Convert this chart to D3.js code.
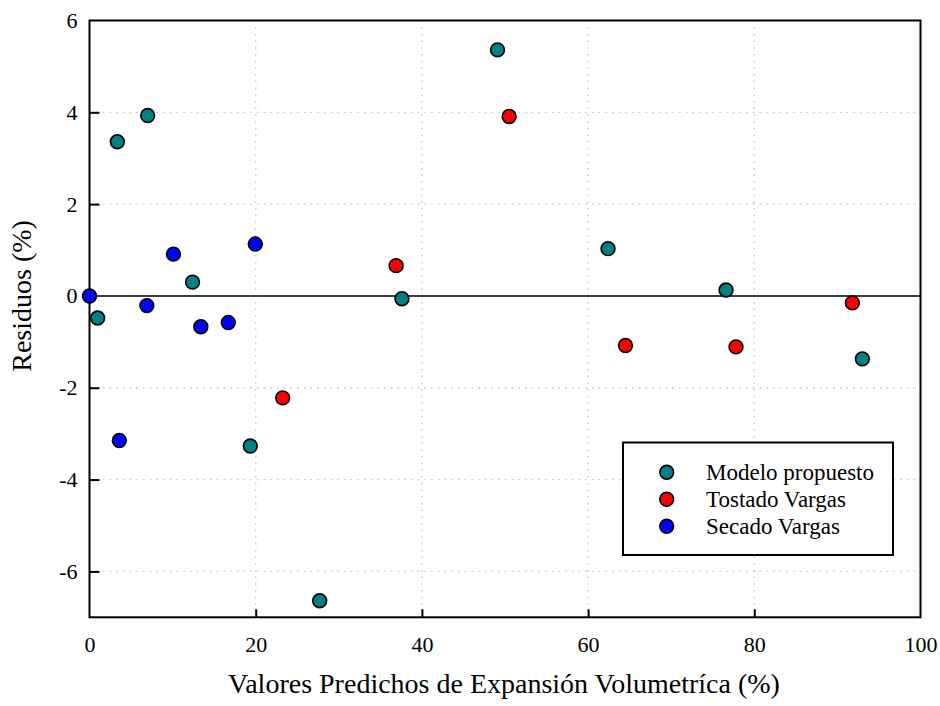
<!DOCTYPE html>
<html><head><meta charset="utf-8">
<script src="https://cdn.jsdelivr.net/npm/d3@7"></script>
<style>body{margin:0;background:#fff}svg{display:block}text{font-family:"Liberation Serif","Times New Roman",serif;fill:#000}</style>
</head><body>
<svg id="c" width="940" height="706" font-family="Liberation Serif"></svg>
<script>
const seriesNames = ["Modelo propuesto", "Tostado Vargas", "Secado Vargas"];
const seriesColors = ["#008080", "#ff0000", "#0000ff"];
const modeloX = [0.98, 3.35, 7.0, 12.4, 19.35, 27.7, 37.6, 49.1, 62.4, 76.6, 93.0];
const modeloY = [-0.48, 3.36, 3.93, 0.3, -3.27, -6.64, -0.06, 5.36, 1.03, 0.13, -1.37];
const tostadoX = [23.25, 36.9, 50.5, 64.5, 77.8, 91.8];
const tostadoY = [-2.22, 0.66, 3.91, -1.08, -1.11, -0.15];
const secadoX = [0.0, 3.59, 6.9, 10.1, 13.4, 16.7, 19.95];
const secadoY = [0.0, -3.15, -0.21, 0.91, -0.67, -0.58, 1.13];
const xTicks = [0, 20, 40, 60, 80, 100];
const yTicks = [-6, -4, -2, 0, 2, 4, 6];

const FONT = '"Liberation Serif","Times New Roman",serif';
const svg = d3.select("#c");
const L = 89.5, R = 920.5, T = 20.5, B = 617.3;
const x = d3.scaleLinear().domain([0, 100]).range([L, R]);
const y = d3.scaleLinear().domain([-7, 6]).range([B, T]);

// grid
const g = svg.append("g");
g.selectAll(".gx").data(xTicks.filter(d => d > 0 && d < 100)).enter().append("line")
  .attr("x1", d => x(d)).attr("x2", d => x(d)).attr("y1", T).attr("y2", B)
  .attr("stroke", "#c4c4c4").attr("stroke-width", 1.3).attr("stroke-dasharray", "1.5,5.2");
g.selectAll(".gy").data(yTicks.filter(d => d !== 0 && d !== 6)).enter().append("line")
  .attr("y1", d => y(d)).attr("y2", d => y(d)).attr("x1", L).attr("x2", R)
  .attr("stroke", "#c4c4c4").attr("stroke-width", 1.3).attr("stroke-dasharray", "1.5,5.2");

// zero line
svg.append("line").attr("x1", L).attr("x2", R).attr("y1", y(0)).attr("y2", y(0))
  .attr("stroke", "#000").attr("stroke-width", 1.5);

const fmt = d => String(d);
// axes with inward ticks
const xAxis = svg.append("g").attr("transform", `translate(0,${B})`)
  .call(d3.axisBottom(x).tickValues(xTicks).tickSize(-8).tickPadding(19).tickFormat(fmt));
const yAxis = svg.append("g").attr("transform", `translate(${L},0)`)
  .call(d3.axisLeft(y).tickValues(yTicks).tickSize(-10).tickPadding(12).tickFormat(fmt));
[xAxis, yAxis].forEach(a => {
  a.attr("font-family", FONT);
  a.select(".domain").remove();
  a.selectAll(".tick line").attr("stroke", "#000").attr("stroke-width", 2);
  a.selectAll(".tick text").style("font-size", "22px").style("font-family", FONT).attr("fill", "#000");
});
xAxis.selectAll(".tick").filter(d => d === 0 || d === 100).select("line").remove();
yAxis.selectAll(".tick").filter(d => d === 6 || d === 0).select("line").remove();

// frame
svg.append("rect").attr("x", L).attr("y", T).attr("width", R - L).attr("height", B - T)
  .attr("fill", "none").attr("stroke", "#000").attr("stroke-width", 2);

// points
const data = [
  modeloX.map((v, i) => ({x: v, y: modeloY[i], s: 0})),
  tostadoX.map((v, i) => ({x: v, y: tostadoY[i], s: 1})),
  secadoX.map((v, i) => ({x: v, y: secadoY[i], s: 2}))
].flat();
svg.append("g").selectAll("circle").data(data).enter().append("circle")
  .attr("cx", d => x(d.x)).attr("cy", d => y(d.y)).attr("r", 6.9)
  .attr("fill", d => seriesColors[d.s]).attr("stroke", "#000").attr("stroke-width", 1.6);

// legend
const lg = svg.append("g");
lg.append("rect").attr("x", 623).attr("y", 442.5).attr("width", 270).attr("height", 112.5)
  .attr("fill", "#fff").attr("stroke", "#000").attr("stroke-width", 2);
seriesNames.forEach((n, i) => {
  const cy = 472.3 + i * 27;
  lg.append("circle").attr("cx", 666.7).attr("cy", cy).attr("r", 6.9)
    .attr("fill", seriesColors[i]).attr("stroke", "#000").attr("stroke-width", 1.6);
  lg.append("text").attr("x", 706).attr("y", cy + 7.5).style("font-family", FONT).style("font-size", "23px").text(n);
});

// axis titles
svg.append("text").attr("x", 504).attr("y", 693).attr("text-anchor", "middle")
  .style("font-family", FONT).style("font-size", "28px").text("Valores Predichos de Expansión Volumetríca (%)");
svg.append("text").attr("transform", `translate(31,${y(0)}) rotate(-90)`).attr("text-anchor", "middle")
  .style("font-family", FONT).style("font-size", "28px").text("Residuos (%)");
</script>
</body></html>
